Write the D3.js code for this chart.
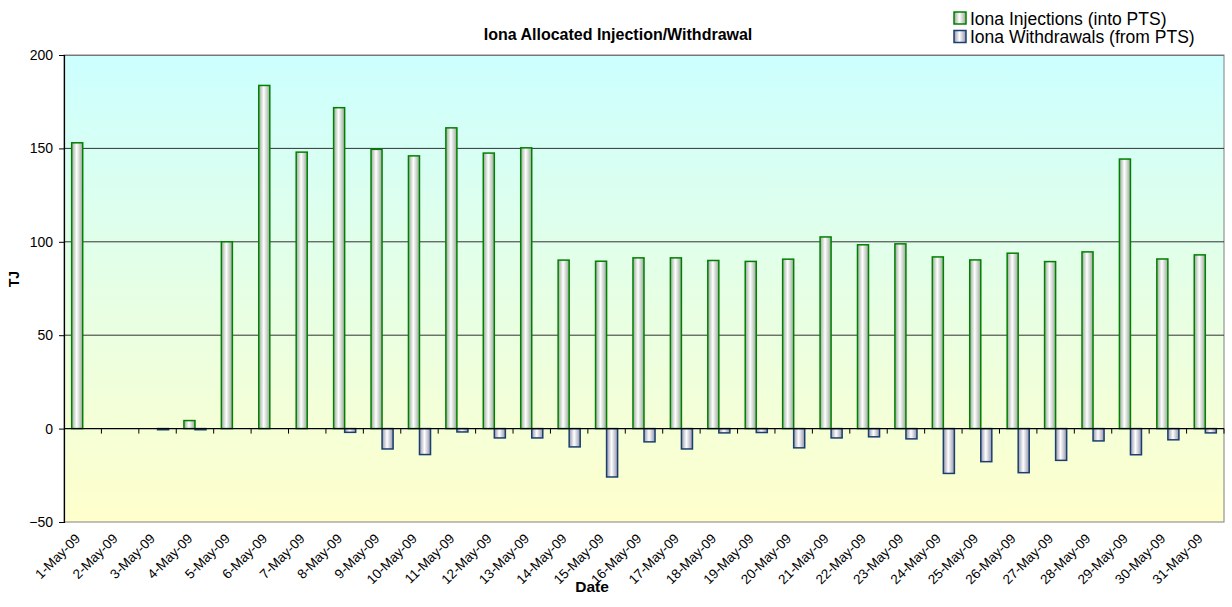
<!DOCTYPE html>
<html>
<head>
<meta charset="utf-8">
<script src="https://cdn.jsdelivr.net/npm/d3@7"></script>
<style>
  body { margin: 0; background: #fff; }
  text { font-family: "Liberation Sans", Arial, sans-serif; }
</style>
</head>
<body>
<script>
const WIDTH = 1232;
const HEIGHT = 607;

// data
var dates = ['1-May-09', '2-May-09', '3-May-09', '4-May-09', '5-May-09', '6-May-09', '7-May-09', '8-May-09',
    '9-May-09', '10-May-09', '11-May-09', '12-May-09', '13-May-09', '14-May-09', '15-May-09', '16-May-09',
    '17-May-09', '18-May-09', '19-May-09', '20-May-09', '21-May-09', '22-May-09', '23-May-09', '24-May-09',
    '25-May-09', '26-May-09', '27-May-09', '28-May-09', '29-May-09', '30-May-09', '31-May-09'];
var injections = [153, 0, 0, 4.3, 100, 183.7, 148, 171.8, 149.5, 146, 161, 147.5, 150.3, 90.2, 89.6, 91.4,
    91.4, 90, 89.5, 90.7, 102.6, 98.4, 98.9, 91.9, 90.3, 93.9, 89.4, 94.6, 144.3, 90.8, 93];
var withdrawals = [0, 0, -0.6, -0.6, 0, 0, 0, -2, -10.9, -13.9, -1.8, -5, -5, -9.8, -25.9, -7.1,
    -10.9, -2.3, -2.1, -10.3, -5, -4.4, -5.5, -24, -17.7, -23.6, -17, -6.6, -14, -6, -2.3];
var yTicks = [-50, 0, 50, 100, 150, 200];
var seriesNames = ['Iona Injections (into PTS)', 'Iona Withdrawals (from PTS)'];

var margin = { top: 55, right: 8, bottom: 85, left: 64 };
var w = WIDTH - margin.left - margin.right;
var h = HEIGHT - margin.top - margin.bottom;

var svg = d3.select('body').append('svg')
    .attr('width', WIDTH)
    .attr('height', HEIGHT);

var defs = svg.append('defs');
var bg = defs.append('linearGradient').attr('id', 'bg')
    .attr('x1', 0).attr('y1', 0).attr('x2', 0).attr('y2', 1);
bg.append('stop').attr('offset', '0%').attr('stop-color', '#ccffff');
bg.append('stop').attr('offset', '100%').attr('stop-color', '#ffffcc');

function barGrad(id, edge) {
    var gr = defs.append('linearGradient').attr('id', id)
        .attr('x1', 0).attr('y1', 0).attr('x2', 1).attr('y2', 0);
    gr.append('stop').attr('offset', '0%').attr('stop-color', edge);
    gr.append('stop').attr('offset', '45%').attr('stop-color', '#ffffff');
    gr.append('stop').attr('offset', '100%').attr('stop-color', edge);
}
barGrad('gInj', '#98a898');
barGrad('gWd', '#9494ac');

var g = svg.append('g').attr('transform', 'translate(' + margin.left + ',' + margin.top + ')');

var x = d3.scaleBand().domain(dates).range([0, w]);
var y = d3.scaleLinear().domain([-50, 200]).range([h, 0]);

var bw = x.bandwidth() * 0.295;
var off = (x.bandwidth() - 2 * bw) / 2;

g.append('rect')
    .attr('width', w).attr('height', h)
    .attr('fill', 'url(#bg)')
    .attr('stroke', '#808080');

// gridlines
g.selectAll('.grid')
    .data(yTicks.filter(function(d) { return d > -50 && d < 200 && d != 0; }))
    .enter().append('line')
    .attr('x1', 0).attr('x2', w)
    .attr('y1', function(d) { return y(d); })
    .attr('y2', function(d) { return y(d); })
    .attr('stroke', '#333')
    .attr('stroke-width', 1);
g.append('line').attr('x1', 0).attr('x2', w).attr('y1', 0.5).attr('y2', 0.5).attr('stroke', '#777');

// bars
g.selectAll('.inj')
    .data(injections)
    .enter().append('rect')
    .attr('x', function(d, i) { return x(dates[i]) + off; })
    .attr('y', function(d) { return y(Math.max(0, d)); })
    .attr('width', bw)
    .attr('height', function(d) { return Math.abs(y(d) - y(0)); })
    .attr('fill', 'url(#gInj)')
    .attr('stroke', function(d) { return d == 0 ? 'none' : '#008000'; })
    .attr('stroke-width', 1.5);

g.selectAll('.wd')
    .data(withdrawals)
    .enter().append('rect')
    .attr('x', function(d, i) { return x(dates[i]) + off + bw; })
    .attr('y', function(d) { return y(Math.max(0, d)); })
    .attr('width', bw)
    .attr('height', function(d) { return Math.abs(y(d) - y(0)); })
    .attr('fill', 'url(#gWd)')
    .attr('stroke', function(d) { return d == 0 ? 'none' : '#1a3f6e'; })
    .attr('stroke-width', 1.5);

// zero axis with ticks
var xAxis = g.append('g')
    .attr('transform', 'translate(0,' + y(0) + ')');
xAxis.append('line').attr('x1', 0).attr('x2', w).attr('stroke', '#000').attr('stroke-width', 1.2);
xAxis.selectAll('.tk')
    .data(dates.slice(1).concat(['end']))
    .enter().append('line')
    .attr('x1', function(d, i) { return x.step() * (i + 1); })
    .attr('x2', function(d, i) { return x.step() * (i + 1); })
    .attr('y1', 0).attr('y2', 5)
    .attr('stroke', '#000');

// x labels
g.append('g').selectAll('text')
    .data(dates)
    .enter().append('text')
    .attr('transform', function(d) {
        return 'translate(' + (x(d) + x.bandwidth() / 2 - 5) + ',' + (h + 14) + ') rotate(-45)';
    })
    .attr('text-anchor', 'end')
    .attr('dy', '0.35em')
    .attr('font-size', '13.5px')
    .attr('fill', '#000')
    .text(function(d) { return d; });

// y axis
var yAxis = g.append('g').call(d3.axisLeft(y).tickValues(yTicks).tickSize(5).tickPadding(6));
yAxis.select('.domain').attr('stroke', '#000').attr('stroke-width', 1.2);
yAxis.selectAll('text').attr('font-size', '14px').attr('fill', '#000')
    .attr('font-family', '"Liberation Sans", Arial, sans-serif');

// titles
svg.append('text')
    .attr('x', 618).attr('y', 40)
    .attr('text-anchor', 'middle')
    .attr('font-size', '16px').attr('font-weight', 'bold')
    .text('Iona Allocated Injection/Withdrawal');

svg.append('text')
    .attr('transform', 'translate(19,' + (margin.top + y(80)) + ') rotate(-90)')
    .attr('text-anchor', 'middle')
    .attr('font-size', '14px').attr('font-weight', 'bold')
    .text('TJ');

svg.append('text')
    .attr('x', 592).attr('y', 592)
    .attr('text-anchor', 'middle')
    .attr('font-size', '15.5px').attr('font-weight', 'bold')
    .text('Date');

// legend
var legend = svg.append('g').attr('transform', 'translate(954,12)');
var lg = legend.selectAll('g')
    .data(seriesNames)
    .enter().append('g')
    .attr('transform', function(d, i) { return 'translate(0,' + (i * 18.5) + ')'; });
lg.append('rect')
    .attr('width', 12).attr('height', 12).attr('y', 0)
    .attr('fill', function(d, i) { return i == 0 ? 'url(#gInj)' : 'url(#gWd)'; })
    .attr('stroke', function(d, i) { return i == 0 ? '#008000' : '#1a3f6e'; })
    .attr('stroke-width', 1.5);
lg.append('text')
    .attr('x', 16).attr('y', 12.5)
    .attr('font-size', '17.5px')
    .text(function(d) { return d; });
</script>
</body>
</html>
